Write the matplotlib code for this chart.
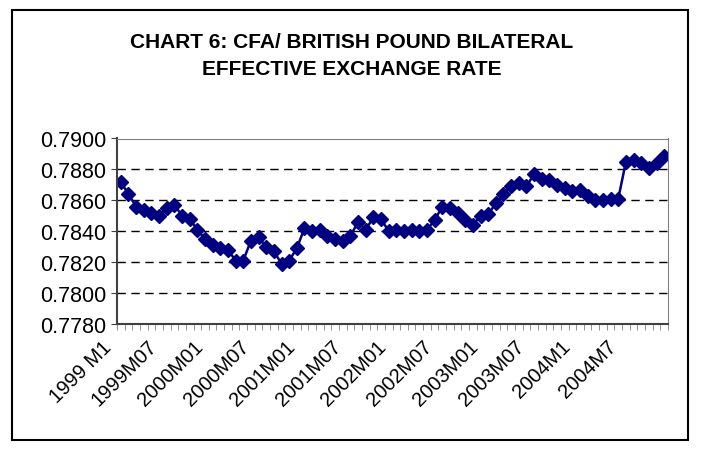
import matplotlib.pyplot as plt
import numpy as np
from matplotlib.patches import Rectangle
from matplotlib.transforms import ScaledTranslation

plt.rcParams['font.family'] = ['Liberation Sans', 'DejaVu Sans']

title = 'CHART 6: CFA/ BRITISH POUND BILATERAL\nEFFECTIVE EXCHANGE RATE'

# monthly values, 1999 M1 .. 2004 M12
rate_1999 = [0.7872, 0.7864, 0.7856, 0.7854, 0.7852, 0.7850,
             0.7855, 0.7857, 0.7850, 0.7848, 0.7841, 0.7835]
rate_2000 = [0.7831, 0.7829, 0.7828, 0.7821, 0.7821, 0.7834,
             0.7836, 0.7830, 0.7827, 0.7819, 0.7821, 0.7829]
rate_2001 = [0.7842, 0.7840, 0.7841, 0.7837, 0.7835, 0.7834,
             0.7837, 0.7846, 0.7841, 0.7849, 0.7848, 0.7840]
rate_2002 = [0.7841, 0.7840, 0.7841, 0.7840, 0.7841, 0.7847,
             0.7856, 0.7855, 0.7852, 0.7847, 0.7844, 0.7850]
rate_2003 = [0.7851, 0.7858, 0.7864, 0.7869, 0.7871, 0.7869,
             0.7877, 0.7874, 0.7873, 0.7870, 0.7868, 0.7866]
rate_2004 = [0.7867, 0.7863, 0.7860, 0.7860, 0.7861, 0.7861,
             0.7885, 0.7886, 0.7884, 0.7881, 0.7884, 0.7889]
rates = rate_1999 + rate_2000 + rate_2001 + rate_2002 + rate_2003 + rate_2004

x_labels = ['1999 M1', '1999M07', '2000M01', '2000M07', '2001M01', '2001M07',
            '2002M01', '2002M07', '2003M01', '2003M07', '2004M1', '2004M7']
y_ticks = [0.7780, 0.7800, 0.7820, 0.7840, 0.7860, 0.7880, 0.7900]

fig = plt.figure(figsize=(7.03, 4.56), dpi=100)
fig.patches.append(Rectangle((12 / 703, 1 - 441 / 456), 676 / 703, 430 / 456,
                             transform=fig.transFigure, fill=False,
                             edgecolor='black', linewidth=1.5))
ax = fig.add_axes([117 / 703, 1 - 325 / 456, 551 / 703, 185.5 / 456])

x = np.arange(len(rates))
ax.plot(x, rates, color='#000080', linewidth=1.8, marker='D',
        markersize=7.5, markeredgecolor='#000080', markerfacecolor='#000080')

ax.set_xlim(-0.5, len(rates) - 0.5)
ax.set_ylim(0.7780, 0.7900)
ax.set_yticks(y_ticks)
ax.set_yticklabels(['%.4f' % v for v in y_ticks], fontsize=15.5)
for v in y_ticks[1:-1]:
    ax.axhline(v, color='black', linewidth=1, linestyle=(0, (6, 4)), zorder=0)

ax.set_xticks(np.arange(0, len(rates), 6))
ax.set_xticklabels(x_labels, rotation=45, ha='right', va='top', fontsize=14.5)
ax.set_xticks(np.arange(-0.5, len(rates)), minor=True)
ax.tick_params(axis='x', which='major', length=0, pad=9)
ax.tick_params(axis='x', which='minor', length=4, color='#808080')
ax.tick_params(axis='y', length=4, color='#404040', pad=4)
shift = ScaledTranslation(-6 / 100, 0, fig.dpi_scale_trans)
for lab in ax.get_xticklabels():
    lab.set_transform(lab.get_transform() + shift)

for side in ['top', 'right']:
    ax.spines[side].set_color('#808080')
for side in ['left', 'bottom']:
    ax.spines[side].set_color('#404040')
    ax.spines[side].set_linewidth(1.5)

fig.text(352 / 703, 1 - 56 / 456, title, ha='center', va='center',
         fontsize=15, fontweight='bold', linespacing=1.55)

fig.savefig('out.png')
